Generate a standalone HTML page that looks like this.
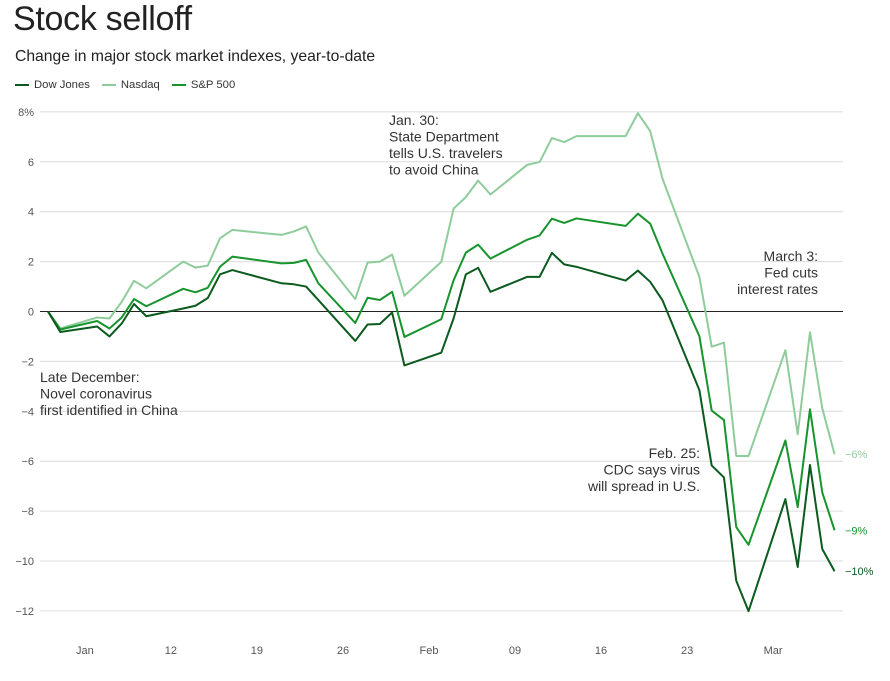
<!DOCTYPE html>
<html><head><meta charset="utf-8"><style>
body{margin:0;background:#fff;font-family:"Liberation Sans",sans-serif;color:#333;}
#wrap{position:relative;width:890px;height:681px;overflow:hidden;}
h1{position:absolute;left:13px;top:0px;margin:0;font-weight:normal;font-size:34px;color:#222;letter-spacing:-0.3px}
.sub{position:absolute;left:15px;top:48px;font-size:15.7px;color:#222}
.legend{position:absolute;left:15px;top:79px;font-size:11.3px;display:flex;gap:12px;color:#333}
.legend span{display:flex;align-items:center}
.legend i{display:inline-block;width:14px;height:2px;margin-right:5px}
</style></head><body>
<div id="wrap">
<h1>Stock selloff</h1>
<div class="sub">Change in major stock market indexes, year-to-date</div>
<div class="legend">
<span><i style="background:#0b5a1e"></i>Dow Jones</span>
<span><i style="background:#8fcc9c"></i>Nasdaq</span>
<span><i style="background:#17942d"></i>S&amp;P 500</span>
</div>
<svg id="chart" width="890" height="681" style="position:absolute;left:0;top:0"></svg>
</div>
<script>
const dates=["2020-01-02","2020-01-03","2020-01-06","2020-01-07","2020-01-08","2020-01-09","2020-01-10","2020-01-13","2020-01-14","2020-01-15","2020-01-16","2020-01-17","2020-01-21","2020-01-22","2020-01-23","2020-01-24","2020-01-27","2020-01-28","2020-01-29","2020-01-30","2020-01-31","2020-02-03","2020-02-04","2020-02-05","2020-02-06","2020-02-07","2020-02-10","2020-02-11","2020-02-12","2020-02-13","2020-02-14","2020-02-18","2020-02-19","2020-02-20","2020-02-21","2020-02-24","2020-02-25","2020-02-26","2020-02-27","2020-02-28","2020-03-02","2020-03-03","2020-03-04","2020-03-05","2020-03-06"];
const dow=[0,-0.82,-0.6,-1.0,-0.48,0.3,-0.19,0.12,0.23,0.54,1.49,1.66,1.13,1.09,1.0,0.46,-1.18,-0.52,-0.5,-0.04,-2.16,-1.65,-0.28,1.49,1.75,0.79,1.39,1.39,2.35,1.89,1.79,1.24,1.64,1.19,0.45,-3.15,-6.17,-6.65,-10.79,-12.01,-7.52,-10.24,-6.15,-9.52,-10.41];
const sp=[0,-0.72,-0.38,-0.68,-0.24,0.5,0.21,0.91,0.77,0.95,1.8,2.2,1.93,1.95,2.07,1.13,-0.46,0.55,0.46,0.79,-1.02,-0.31,1.25,2.36,2.68,2.12,2.88,3.05,3.72,3.55,3.73,3.43,3.92,3.52,2.32,-0.99,-3.97,-4.35,-8.64,-9.35,-5.17,-7.84,-3.92,-7.25,-8.77];
const nasdaq=[0,-0.68,-0.24,-0.28,0.39,1.23,0.93,2.0,1.76,1.84,2.94,3.27,3.07,3.21,3.41,2.36,0.5,1.96,2.0,2.28,0.63,1.99,4.12,4.59,5.25,4.69,5.88,5.99,6.95,6.79,7.03,7.03,7.95,7.23,5.32,1.39,-1.41,-1.25,-5.79,-5.79,-1.55,-4.92,-0.83,-3.88,-5.72];
const yTicks=[8,6,4,2,0,-2,-4,-6,-8,-10,-12];
const xTickDates=["2020-01-05","2020-01-12","2020-01-19","2020-01-26","2020-02-02","2020-02-09","2020-02-16","2020-02-23","2020-03-01"];
const xTickLabels=["Jan","12","19","26","Feb","09","16","23","Mar"];
const endLabels=["−10%","−6%","−9%"];

const NS="http://www.w3.org/2000/svg";
const svg=document.getElementById('chart');
const t0=Date.parse("2020-01-02");
function x(d){return 48+12.29*(Date.parse(d)-t0)/86400000;}
function y(v){return 311.5-v*24.95;}
function mk(tag,attrs,parent){const e=document.createElementNS(NS,tag);for(const k in attrs)e.setAttribute(k,attrs[k]);(parent||svg).appendChild(e);return e;}

yTicks.forEach(v=>{
  const l=mk('line',{x1:40,x2:843,y1:y(v),y2:y(v),stroke:v===0?'#222':'#dcdcdc','stroke-width':1});
  
  
  const t=mk('text',{x:34,y:y(v)+4,'text-anchor':'end','font-size':11,fill:'#555'});
  t.textContent=(v===8?'8%':(v<0?'−'+Math.abs(v):String(v)));
  
  
});
xTickDates.forEach((d,i)=>{
  const t=mk('text',{x:x(d),y:654,'text-anchor':'middle','font-size':11,fill:'#555'});
  t.textContent=xTickLabels[i];
  
  
});
const series=[["nasdaq",nasdaq,"#8fcc9c"],["sp500",sp,"#17942d"],["dow",dow,"#0b5a1e"]];
series.forEach(([n,vals,c])=>{
  const p=mk('polyline',{points:vals.map((v,i)=>x(dates[i])+','+y(v)).join(' '),fill:'none',stroke:c,'stroke-width':2,'stroke-linejoin':'round'});
  
  
});
[[dow,"#0b5a1e",endLabels[0]],[nasdaq,"#8fcc9c",endLabels[1]],[sp,"#17942d",endLabels[2]]].forEach(([vals,c,lab])=>{
  const t=mk('text',{x:845,y:y(vals[vals.length-1])+4,'font-size':11,fill:c});
  t.textContent=lab;
  
  
});
function note(lines,xx,yy,anchor,name){
  const g=mk('g',{});
  
  
  lines.forEach((s,i)=>{const t=mk('text',{x:xx,y:yy+i*16.5,'text-anchor':anchor,'font-size':14,fill:'#333'},g);t.textContent=s;});
}
note(["Jan. 30:","State Department","tells U.S. travelers","to avoid China"],389,125,'start','annotation-jan30');
note(["Late December:","Novel coronavirus","first identified in China"],40,382,'start','annotation-late-december');
note(["March 3:","Fed cuts","interest rates"],818,261,'end','annotation-march3');
note(["Feb. 25:","CDC says virus","will spread in U.S."],700,458,'end','annotation-feb25');
</script>
</body></html>
